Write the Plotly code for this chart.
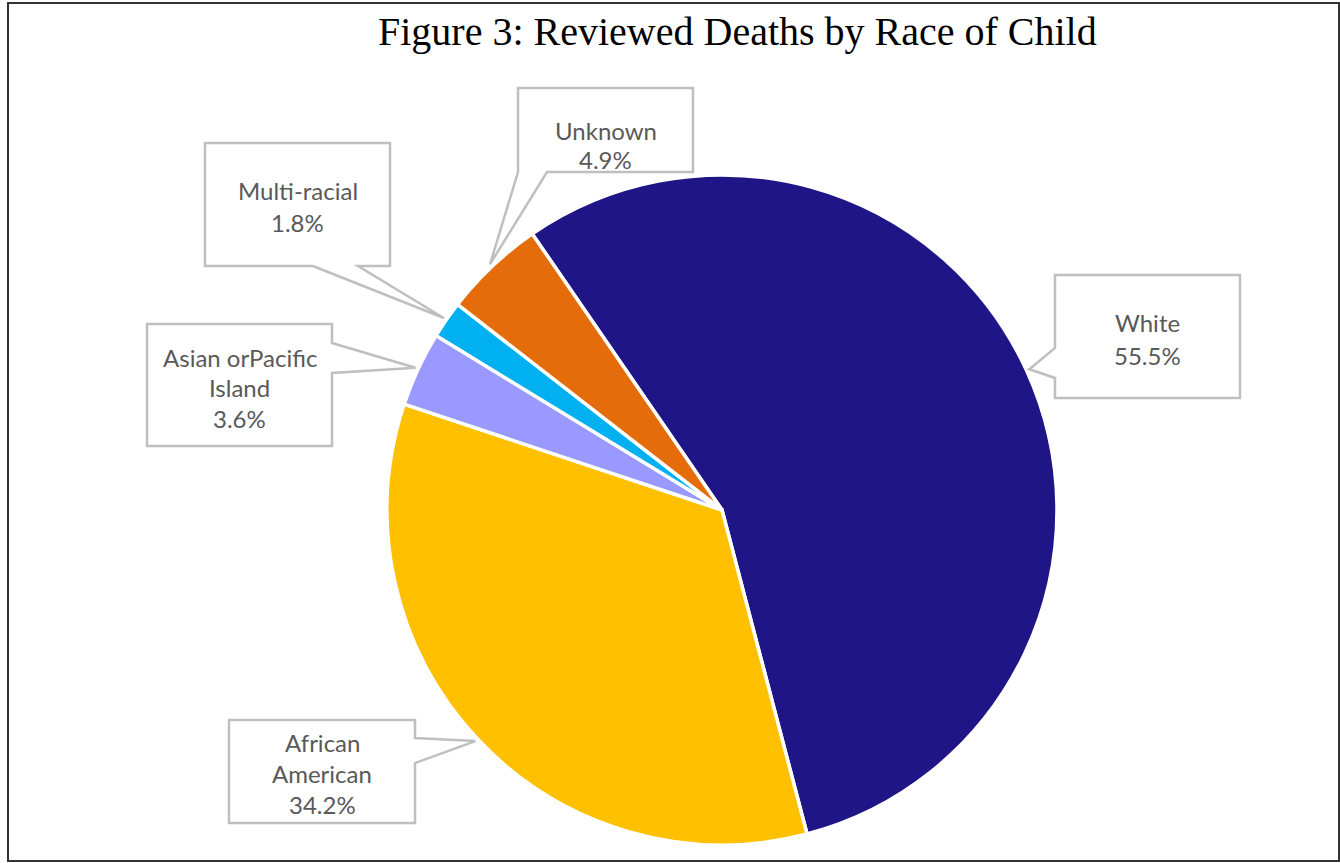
import math
import plotly.graph_objects as go

# ---- data ----
categories = ["White", "African American", "Asian orPacific Island", "Multi-racial", "Unknown"]
percent = [55.5, 34.2, 3.6, 1.8, 4.9]
label_lines = [["White"], ["African", "American"], ["Asian orPacific", "Island"], ["Multi-racial"], ["Unknown"]]
colors = ["#1F1587", "#FFC000", "#9999FF", "#00B0F0", "#E46C0A"]
title = "Figure 3: Reviewed Deaths by Race of Child"

# ---- layout geometry (pixels) ----
W, H = 1340, 863
CX, CY, R = 722, 510, 335
ROT = -34.5

def px(x):
    return x / W

def py(y):
    return 1 - y / H

# callout boxes: (x0, y0, x1, y1, side, base_a, base_b, text line y positions)
boxes = [
    (1055, 275, 1240, 398, "left", 348, 378, [323, 355]),
    (229, 720, 415, 823, "right", 738, 763, [742, 773, 804]),
    (147, 324, 332, 446, "right", 343, 373, [357, 387, 418]),
    (205, 143, 390, 266, "bottom", 313, 358, [190, 222]),
    (518, 88, 693, 172, "bottom", 518, 547, [130, 159]),
]

fig = go.Figure()
fig.add_trace(go.Pie(
    labels=categories, values=percent, sort=False, direction="clockwise",
    rotation=ROT, textinfo="none", hoverinfo="label+percent",
    marker=dict(colors=colors, line=dict(color="white", width=3.5)),
    domain=dict(x=[px(CX - R), px(CX + R)], y=[py(CY + R), py(CY - R)]),
    showlegend=False,
))

shapes = []
annotations = []
total = sum(percent)
cum = 0.0
for i, v in enumerate(percent):
    mid = ROT + (cum + v / 2) / total * 360
    cum += v
    a = math.radians(mid)
    tx = CX + (R + 3) * math.sin(a)
    ty = CY - (R + 3) * math.cos(a)
    x0, y0, x1, y1, side, ba, bb, ys = boxes[i]
    if side == "left":
        pts = [(x0, y0), (x1, y0), (x1, y1), (x0, y1), (x0, bb), (tx, ty), (x0, ba)]
    elif side == "right":
        pts = [(x0, y0), (x1, y0), (x1, ba), (tx, ty), (x1, bb), (x1, y1), (x0, y1)]
    else:  # bottom
        pts = [(x0, y0), (x1, y0), (x1, y1), (bb, y1), (tx, ty), (ba, y1), (x0, y1)]
    path = "M " + " L ".join(f"{px(x):.5f},{py(y):.5f}" for x, y in pts) + " Z"
    shapes.append(dict(type="path", xref="paper", yref="paper", path=path,
                       line=dict(color="#BFBFBF", width=2.5), fillcolor="white", layer="above"))
    lines = label_lines[i] + [f"{v:.1f}%"]
    for text, yy in zip(lines, ys):
        annotations.append(dict(text=text, x=px((x0 + x1) / 2), y=py(yy), xref="paper", yref="paper",
                                xanchor="center", yanchor="middle", showarrow=False,
                                font=dict(family="Lato", size=24, color="#595959")))

# outer frame
shapes.append(dict(type="rect", xref="paper", yref="paper", x0=px(8), x1=px(1339), y0=py(861), y1=py(3),
                   line=dict(color="#333333", width=2), layer="above"))

annotations.append(dict(text=title, x=px(737), y=py(32), xref="paper", yref="paper",
                        xanchor="center", yanchor="middle", showarrow=False,
                        font=dict(family="Liberation Serif", size=40, color="black")))

fig.update_layout(width=W, height=H, margin=dict(l=0, r=0, t=0, b=0),
                  paper_bgcolor="white", plot_bgcolor="white",
                  shapes=shapes, annotations=annotations)
fig.write_html("out.html", config={"displayModeBar": False},
               post_script="document.body.style.margin='0';document.body.style.overflow='hidden';")
